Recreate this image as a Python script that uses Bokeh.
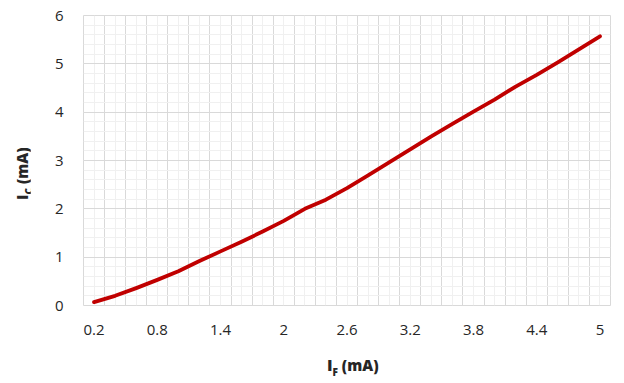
from bokeh.plotting import figure
from bokeh.models import Range1d, FixedTicker, Div
from bokeh.layouts import row, column
from bokeh.embed import file_html
from bokeh.resources import INLINE

# Data
i_f = [0.2, 0.4, 0.6, 0.8, 1.0, 1.2, 1.4, 1.6, 1.8, 2.0, 2.2, 2.4, 2.6,
       2.8, 3.0, 3.2, 3.4, 3.6, 3.8, 4.0, 4.2, 4.4, 4.6, 4.8, 5.0]
i_c = [0.07, 0.20, 0.36, 0.53, 0.71, 0.92, 1.12, 1.32, 1.53, 1.75, 2.00, 2.19, 2.43,
       2.69, 2.96, 3.23, 3.50, 3.76, 4.01, 4.26, 4.53, 4.77, 5.03, 5.30, 5.57]
x_tick_values = [0.2, 0.8, 1.4, 2.0, 2.6, 3.2, 3.8, 4.4, 5.0]
x_tick_labels = ["0.2", "0.8", "1.4", "2", "2.6", "3.2", "3.8", "4.4", "5"]
y_tick_values = [0, 1, 2, 3, 4, 5, 6]
x_title = ("I", "F", " (mA)")
y_title = ("I", "C", " (mA)")

FONT = "Open Sans"
TXT = "#262626"

p = figure(width=586, height=350, output_backend="svg", toolbar_location=None,
           x_range=Range1d(0.1, 5.1), y_range=Range1d(0, 6),
           min_border_left=53, min_border_right=6, min_border_top=15,
           min_border_bottom=45, margin=0)
p.outline_line_color = "#d9d9d9"
p.background_fill_color = "white"
p.border_fill_color = "white"

# grids: category boundaries (major) and category centres (minor)
n = len(i_f)
step = i_f[1] - i_f[0]
bounds = [i_f[0] - step / 2 + k * step for k in range(n + 1)]
p.xgrid.ticker = FixedTicker(ticks=bounds, minor_ticks=i_f)
p.xgrid.grid_line_color = "#d9d9d9"
p.xgrid.minor_grid_line_color = "#f0f0f0"
y_minor = [k * 0.2 for k in range(31)]
p.ygrid.ticker = FixedTicker(ticks=y_tick_values, minor_ticks=y_minor)
p.ygrid.grid_line_color = "#d9d9d9"
p.ygrid.minor_grid_line_color = "#f0f0f0"

for ax in (p.xaxis[0], p.yaxis[0]):
    ax.axis_line_color = None
    ax.major_tick_line_color = None
    ax.minor_tick_line_color = None
    ax.major_tick_out = 0
    ax.minor_tick_out = 0
    ax.major_label_text_font = FONT
    ax.major_label_text_font_size = "15px"
    ax.major_label_text_color = TXT

p.xaxis.ticker = FixedTicker(ticks=x_tick_values)
p.xaxis.major_label_overrides = {v: l for v, l in zip(x_tick_values, x_tick_labels)}
p.xaxis.major_label_standoff = 19
p.yaxis.ticker = FixedTicker(ticks=y_tick_values)
p.yaxis.major_label_standoff = 20

p.line(i_f, i_c, line_width=3.8, line_color="#C00000", line_cap="round", line_join="round")

def title_html(parts, extra):
    main, sub, rest = parts
    return (f'<div style="position:absolute;{extra}white-space:nowrap;'
            f'font-family:\'{FONT}\';font-weight:800;font-size:16px;line-height:20px;color:{TXT};">'
            f'{main}<span style="font-size:10px;position:relative;top:5px;">{sub}</span>'
            f'<span style="font-size:15px;">{rest}</span></div>')

xdiv = Div(width=586, height=26, margin=0,
           text=title_html(x_title, "left:297px;top:5px;"),
           styles={"position": "relative"})
ydiv = Div(width=30, height=376, margin=0,
           text=title_html(y_title, "left:12px;top:200px;transform:rotate(-90deg);transform-origin:0 0;"),
           styles={"position": "relative"})

layout = row(ydiv, column(p, xdiv, spacing=0), spacing=0)
open("out.html", "w").write(file_html(layout, INLINE))
